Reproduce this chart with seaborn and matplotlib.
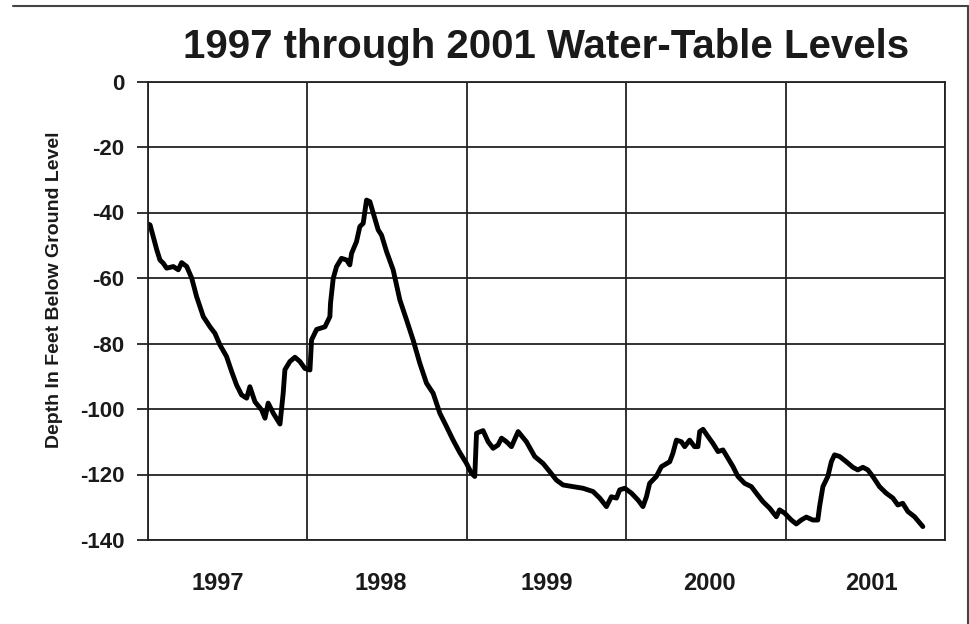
import numpy as np
import pandas as pd
import matplotlib
matplotlib.use("Agg")
import matplotlib.pyplot as plt
from matplotlib.lines import Line2D
import seaborn as sns

# Decimal year of each reading
years = [
    1997.000, 1997.013, 1997.055, 1997.075, 1997.096, 1997.117, 1997.159, 1997.190,
    1997.211, 1997.243, 1997.274, 1997.305, 1997.347, 1997.389, 1997.420, 1997.451,
    1997.493, 1997.525, 1997.556, 1997.587, 1997.619, 1997.639, 1997.671, 1997.713,
    1997.734, 1997.754, 1997.786, 1997.828, 1997.848, 1997.859, 1997.890, 1997.922,
    1997.953, 1997.984, 1998.016, 1998.026, 1998.058, 1998.110, 1998.141, 1998.145,
    1998.162, 1998.183, 1998.214, 1998.246, 1998.266, 1998.277, 1998.308, 1998.329,
    1998.350, 1998.371, 1998.392, 1998.413, 1998.444, 1998.465, 1998.497, 1998.538,
    1998.580, 1998.622, 1998.663, 1998.705, 1998.747, 1998.789, 1998.831, 1998.873,
    1998.914, 1998.956, 1998.998, 1999.029, 1999.050, 1999.061, 1999.102, 1999.134,
    1999.165, 1999.196, 1999.218, 1999.249, 1999.280, 1999.322, 1999.374, 1999.426,
    1999.478, 1999.520, 1999.562, 1999.604, 1999.666, 1999.729, 1999.792, 1999.834,
    1999.876, 1999.907, 1999.939, 1999.959, 1999.991, 2000.033, 2000.074, 2000.105,
    2000.127, 2000.147, 2000.189, 2000.221, 2000.273, 2000.293, 2000.315, 2000.346,
    2000.367, 2000.398, 2000.429, 2000.450, 2000.461, 2000.482, 2000.513, 2000.544,
    2000.576, 2000.607, 2000.638, 2000.670, 2000.701, 2000.743, 2000.785, 2000.816,
    2000.858, 2000.900, 2000.942, 2000.962, 2000.994, 2001.036, 2001.067, 2001.098,
    2001.130, 2001.171, 2001.202, 2001.213, 2001.234, 2001.265, 2001.287, 2001.307,
    2001.339, 2001.381, 2001.422, 2001.453, 2001.485, 2001.516, 2001.547, 2001.589,
    2001.631, 2001.673, 2001.704, 2001.735, 2001.767, 2001.809, 2001.861,
]

# Water-table depth (feet, negative = below ground level)
depth = [
    -43.5, -43.8, -51.4, -54.5, -55.5, -57.0, -56.5, -57.5,
    -55.3, -56.5, -60.0, -65.7, -71.8, -74.9, -76.9, -80.4,
    -84.0, -88.6, -92.7, -95.7, -96.7, -93.2, -97.8, -100.3,
    -102.8, -98.2, -101.3, -104.6, -95.2, -88.0, -85.5, -84.2,
    -85.5, -87.6, -88.1, -78.9, -75.7, -74.9, -71.8, -67.7,
    -60.1, -56.5, -54.0, -54.5, -56.0, -52.5, -48.9, -44.3,
    -43.3, -36.2, -36.7, -40.2, -45.3, -46.9, -52.0, -57.5,
    -66.7, -72.8, -78.9, -86.0, -92.1, -95.2, -101.3, -105.4,
    -109.5, -113.3, -116.6, -119.6, -120.6, -107.4, -106.6, -110.0,
    -112.0, -111.0, -108.9, -110.0, -111.5, -106.9, -110.0, -114.5,
    -116.6, -119.1, -121.7, -123.2, -123.7, -124.2, -125.2, -127.2,
    -129.8, -126.8, -127.2, -124.7, -124.2, -125.7, -127.8, -129.8,
    -126.8, -122.7, -120.6, -117.6, -116.1, -113.5, -109.5, -110.0,
    -111.5, -109.5, -111.5, -111.5, -106.9, -106.2, -108.4, -110.5,
    -113.0, -112.5, -115.0, -117.6, -120.6, -122.7, -123.7, -125.7,
    -128.3, -130.3, -132.9, -130.8, -131.8, -133.9, -135.1, -133.9,
    -133.0, -133.9, -133.9, -129.8, -123.7, -120.6, -116.1, -114.0,
    -114.5, -116.1, -117.8, -118.6, -117.8, -118.6, -120.6, -123.7,
    -125.7, -127.2, -129.3, -128.8, -131.3, -132.9, -135.9,
]

year_labels = ["1997", "1998", "1999", "2000", "2001"]
year_label_pos = [1997.44, 1998.46, 1999.50, 2000.52, 2001.54]
y_ticks = [0, -20, -40, -60, -80, -100, -120, -140]

title = "1997 through 2001 Water-Table Levels"
ylabel = "Depth In Feet Below Ground Level"

df = pd.DataFrame({"year": years, "depth": depth})

sns.set_style("white")
plt.rcParams["font.family"] = ["Liberation Sans", "DejaVu Sans"]
plt.rcParams["font.weight"] = "bold"

fig = plt.figure(figsize=(9.70, 6.24), dpi=100)
ax = fig.add_axes([148 / 970, 1 - 540 / 624, (945 - 148) / 970, (540 - 81.5) / 624])

sns.lineplot(data=df, x="year", y="depth", ax=ax, color="black", linewidth=3.5)

ax.set_xlim(1997, 2002)
ax.set_ylim(-140, 0)

# year boundaries as gridlines (major), labels mid-year (minor)
ax.set_xticks([1997 + i for i in range(6)])
ax.set_xticklabels([])
ax.set_xticks(year_label_pos, minor=True)
ax.set_xticklabels(year_labels, minor=True)
ax.tick_params(axis="x", which="both", length=0)
ax.tick_params(axis="x", which="minor", labelsize=17, pad=23)

ax.set_yticks(y_ticks)
ax.set_yticklabels([str(v) for v in y_ticks])
ax.tick_params(axis="y", which="major", length=8, width=1.3, color="#222222",
               direction="out", labelsize=16, pad=9, left=True)

for lbl in ax.get_xticklabels(minor=True) + ax.get_yticklabels():
    lbl.set_fontweight("bold")
    lbl.set_color("#1a1a1a")

ax.grid(True, which="major", color="#222222", linewidth=1.3)
for s in ax.spines.values():
    s.set_visible(True)
    s.set_color("#222222")
    s.set_linewidth(1.3)

ax.set_xlabel("")
ax.set_ylabel(ylabel, fontsize=14, fontweight="bold", color="#1a1a1a")
ax.yaxis.set_label_coords((63 - 148) / 797, (540 - 290) / (540 - 81.5))

fig.text(546 / 970, 1 - 47 / 624, title, ha="center", va="center",
         fontsize=29, fontweight="bold", color="#1a1a1a")

# partial frame around the figure (top and right)
fig.add_artist(Line2D([13 / 970, 968 / 970], [1 - 6 / 624, 1 - 6 / 624],
                      transform=fig.transFigure, color="#444444", linewidth=1.5))
fig.add_artist(Line2D([968 / 970, 968 / 970], [1 - 6 / 624, 0],
                      transform=fig.transFigure, color="#444444", linewidth=1.5))

fig.savefig("out.png", dpi=100, facecolor="white")
